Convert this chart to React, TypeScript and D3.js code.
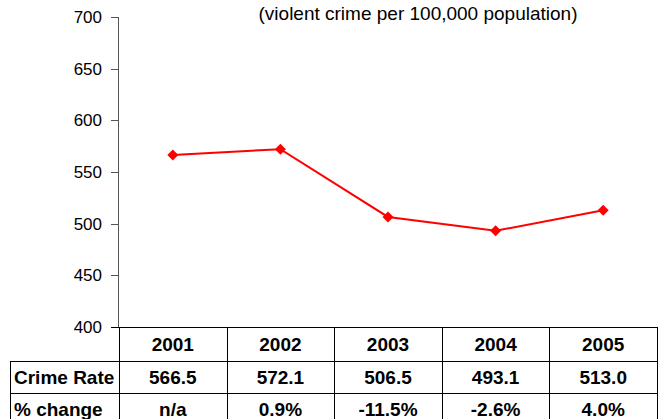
import React from "react";
import * as d3 from "d3";

const years = ["2001", "2002", "2003", "2004", "2005"];
const crimeRate = [566.5, 572.1, 506.5, 493.1, 513.0];
const crimeRateLabels = ["566.5", "572.1", "506.5", "493.1", "513.0"];
const pctChange = ["n/a", "0.9%", "-11.5%", "-2.6%", "4.0%"];
const yTicks = [400, 450, 500, 550, 600, 650, 700];
const title = "(violent crime per 100,000 population)";
const rowLabels = ["Crime Rate", "% change"];

const W = 660;
const H = 419;
const font = "'Liberation Sans', Arial, sans-serif";

export default function App() {
  const x = d3.scaleBand<string>().domain(years).range([119, 657]).padding(0);
  const y = d3.scaleLinear().domain([400, 700]).range([327, 17]);
  const cx = (i: number) => (x(years[i]) as number) + x.bandwidth() / 2;
  const line = d3
    .line<number>()
    .x((_, i) => cx(i))
    .y((d) => y(d));
  const r = 5.5;
  const diamond = `M0,${-r}L${r},0L0,${r}L${-r},0Z`;

  const tableLeft = 10;
  const rowTops = [327, 361, 393, 426];
  const axisColor = "#555";

  return (
    <svg
      width={W}
      height={H}
      style={{ position: "absolute", left: 0, top: 0, background: "#fff" }}
    >
      <text
        x={418}
        y={20}
        textAnchor="middle"
        fontFamily={font}
        fontSize={19}
        fill="#000"
      >
        {title}
      </text>

      {/* y axis */}
      <line x1={118.5} x2={118.5} y1={y(700)} y2={327} stroke={axisColor} strokeWidth={1} />
      {yTicks.map((t) => (
        <g key={t}>
          <line x1={111} x2={118.5} y1={Math.round(y(t)) + 0.5} y2={Math.round(y(t)) + 0.5} stroke={axisColor} />
          <text
            x={102}
            y={y(t)}
            dy="0.35em"
            textAnchor="end"
            fontFamily={font}
            fontSize={17}
            fill="#000"
          >
            {t}
          </text>
        </g>
      ))}

      {/* table grid */}
      <line x1={111} x2={658} y1={327.5} y2={327.5} stroke="#000" />
      <line x1={tableLeft} x2={658} y1={361.5} y2={361.5} stroke="#000" />
      <line x1={tableLeft} x2={658} y1={393.5} y2={393.5} stroke="#000" />
      <line x1={tableLeft + 0.5} x2={tableLeft + 0.5} y1={361} y2={H} stroke="#000" />
      {years.map((yr) => (
        <line
          key={yr}
          x1={Math.round(x(yr) as number) + 0.5}
          x2={Math.round(x(yr) as number) + 0.5}
          y1={327}
          y2={H}
          stroke="#000"
        />
      ))}
      <line x1={657.5} x2={657.5} y1={327} y2={H} stroke="#000" />

      {/* table text */}
      {years.map((yr, i) => (
        <g key={yr} fontFamily={font} fontSize={19} fontWeight="bold" textAnchor="middle">
          <text x={cx(i)} y={(rowTops[0] + rowTops[1]) / 2} dy="0.35em">{yr}</text>
          <text x={cx(i)} y={(rowTops[1] + rowTops[2]) / 2} dy="0.35em">{crimeRateLabels[i]}</text>
          <text x={cx(i)} y={(rowTops[2] + rowTops[3]) / 2} dy="0.35em">{pctChange[i]}</text>
        </g>
      ))}
      {rowLabels.map((lbl, i) => (
        <text
          key={lbl}
          x={14}
          y={(rowTops[i + 1] + rowTops[i + 2]) / 2}
          dy="0.35em"
          fontFamily={font}
          fontSize={19}
          fontWeight="bold"
        >
          {lbl}
        </text>
      ))}

      {/* series */}
      <path d={line(crimeRate) ?? ""} fill="none" stroke="#ff0000" strokeWidth={2} />
      {crimeRate.map((v, i) => (
        <path
          key={i}
          d={diamond}
          transform={`translate(${cx(i)},${y(v)})`}
          fill="#ff0000"
        />
      ))}
    </svg>
  );
}
